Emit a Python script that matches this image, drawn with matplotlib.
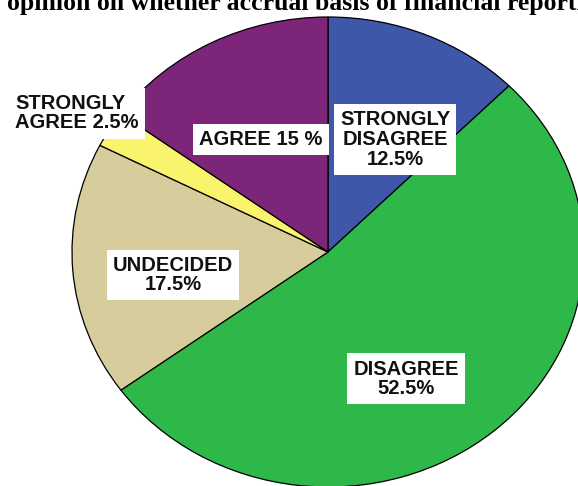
import numpy as np
import matplotlib
matplotlib.use("Agg")
import matplotlib.pyplot as plt

categories = ["STRONGLY DISAGREE", "DISAGREE", "UNDECIDED", "STRONGLY AGREE", "AGREE"]
percents = [12.5, 52.5, 17.5, 2.5, 15.0]
labels = ["STRONGLY\nDISAGREE\n12.5%", "DISAGREE\n52.5%", "UNDECIDED\n17.5%",
          "STRONGLY\nAGREE 2.5%", "AGREE 15 %"]
colors = ["#3F57A8", "#2EB84A", "#D6CC9C", "#FAF36C", "#7D2679"]
title = "opinion on whether accrual basis of financial reporting"

# label anchor points in pie units (radius = 1)
label_pos = [(0.262, 0.479), (0.305, -0.540), (-0.605, -0.098),
             (-0.992, 0.591), (-0.262, 0.477)]
label_align = ["center", "center", "center", "left", "center"]

W, H = 578, 486
fig = plt.figure(figsize=(W / 100, H / 100), dpi=100)
ax = fig.add_axes([0, 0, 1, 1])

# pie centre at (328, 252) px, radius 256 px wide, 235 px tall
cx, cy, rx, ry = 328, 252, 256, 235
ax.pie(percents, colors=colors, startangle=90, counterclock=False,
       wedgeprops=dict(edgecolor="black", linewidth=0.9))
ax.set_aspect("auto")
ax.set_xlim(-cx / rx, (W - cx) / rx)
ax.set_ylim(-(H - cy) / ry, cy / ry)

for lab, (x, y), ha in zip(labels, label_pos, label_align):
    if ha == "left":
        x = x - 0.23
    ax.text(x, y, lab, ha=ha, va="center", multialignment=ha,
            family="Liberation Sans", fontweight="bold", fontsize=14.5,
            linespacing=1.05, color="#111111",
            bbox=dict(boxstyle="square,pad=0.3", facecolor="white", edgecolor="none"))

fig.text(7 / W, 1 - 10 / H, title, ha="left", va="baseline",
         family="Liberation Serif", fontweight="bold", fontsize=18.5)

fig.savefig("out.png", dpi=100)
